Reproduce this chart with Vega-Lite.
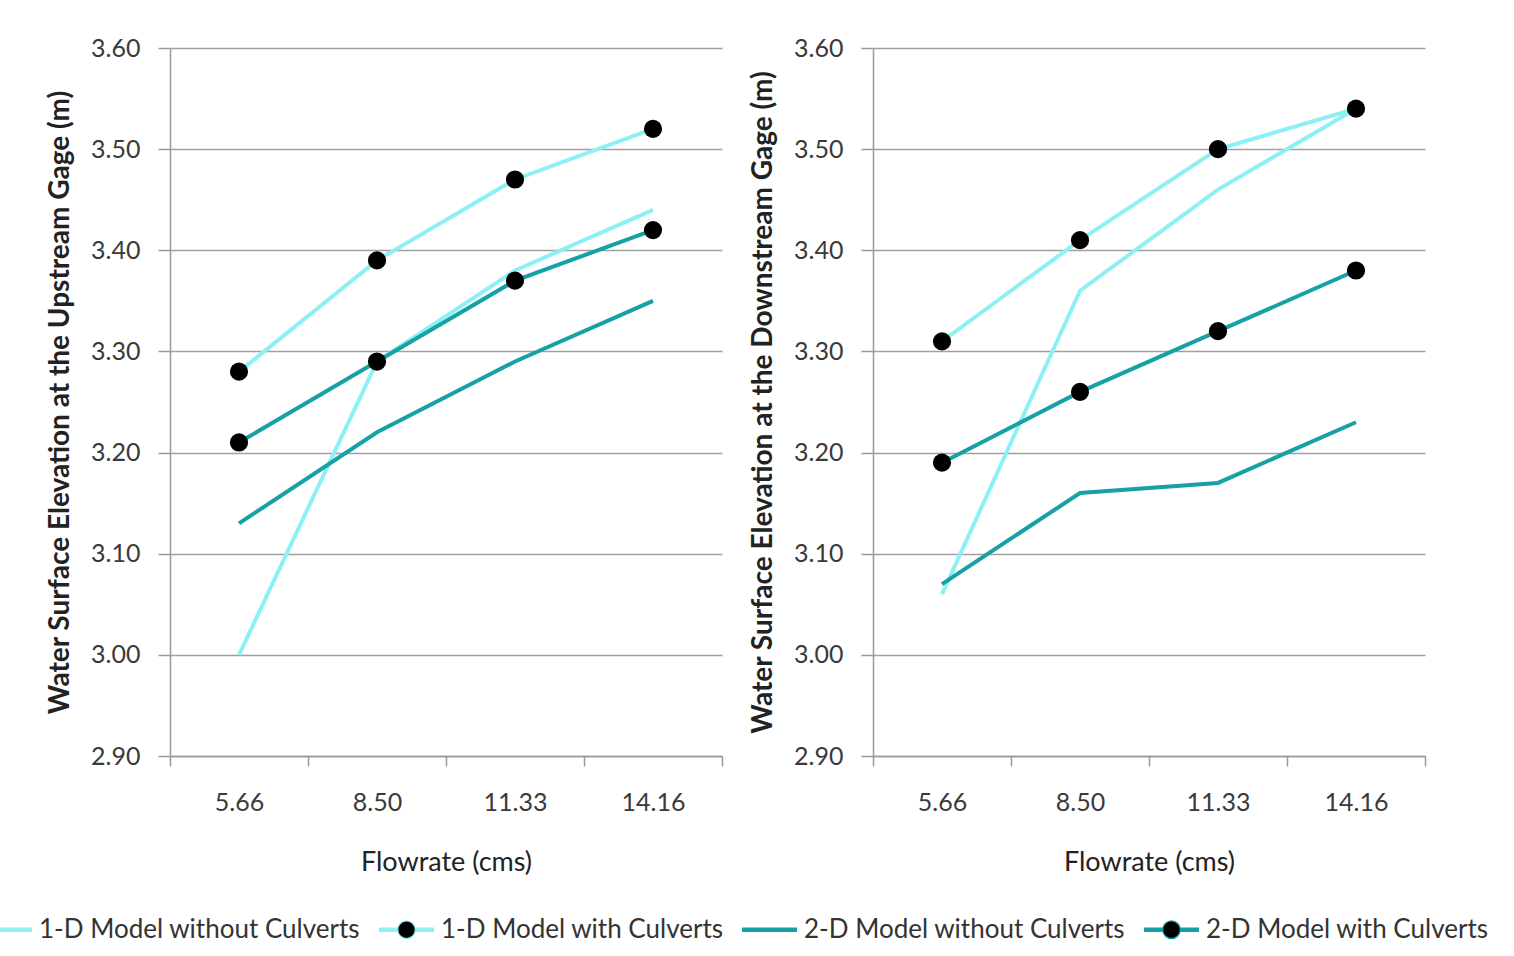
{
  "$schema": "https://vega.github.io/schema/vega-lite/v6.json",
  "background": "white",
  "padding": {"left": -24, "top": 36, "right": 0, "bottom": 0},
  "spacing": 26,
  "datasets": {
    "up": [
      {"flow": "5.66", "series": "1-D Model without Culverts", "wse": 3.00},
      {"flow": "8.50", "series": "1-D Model without Culverts", "wse": 3.29},
      {"flow": "11.33", "series": "1-D Model without Culverts", "wse": 3.38},
      {"flow": "14.16", "series": "1-D Model without Culverts", "wse": 3.44},
      {"flow": "5.66", "series": "1-D Model with Culverts", "wse": 3.28},
      {"flow": "8.50", "series": "1-D Model with Culverts", "wse": 3.39},
      {"flow": "11.33", "series": "1-D Model with Culverts", "wse": 3.47},
      {"flow": "14.16", "series": "1-D Model with Culverts", "wse": 3.52},
      {"flow": "5.66", "series": "2-D Model without Culverts", "wse": 3.13},
      {"flow": "8.50", "series": "2-D Model without Culverts", "wse": 3.22},
      {"flow": "11.33", "series": "2-D Model without Culverts", "wse": 3.29},
      {"flow": "14.16", "series": "2-D Model without Culverts", "wse": 3.35},
      {"flow": "5.66", "series": "2-D Model with Culverts", "wse": 3.21},
      {"flow": "8.50", "series": "2-D Model with Culverts", "wse": 3.29},
      {"flow": "11.33", "series": "2-D Model with Culverts", "wse": 3.37},
      {"flow": "14.16", "series": "2-D Model with Culverts", "wse": 3.42}
    ],
    "down": [
      {"flow": "5.66", "series": "1-D Model without Culverts", "wse": 3.06},
      {"flow": "8.50", "series": "1-D Model without Culverts", "wse": 3.36},
      {"flow": "11.33", "series": "1-D Model without Culverts", "wse": 3.46},
      {"flow": "14.16", "series": "1-D Model without Culverts", "wse": 3.54},
      {"flow": "5.66", "series": "1-D Model with Culverts", "wse": 3.31},
      {"flow": "8.50", "series": "1-D Model with Culverts", "wse": 3.41},
      {"flow": "11.33", "series": "1-D Model with Culverts", "wse": 3.50},
      {"flow": "14.16", "series": "1-D Model with Culverts", "wse": 3.54},
      {"flow": "5.66", "series": "2-D Model without Culverts", "wse": 3.07},
      {"flow": "8.50", "series": "2-D Model without Culverts", "wse": 3.16},
      {"flow": "11.33", "series": "2-D Model without Culverts", "wse": 3.17},
      {"flow": "14.16", "series": "2-D Model without Culverts", "wse": 3.23},
      {"flow": "5.66", "series": "2-D Model with Culverts", "wse": 3.19},
      {"flow": "8.50", "series": "2-D Model with Culverts", "wse": 3.26},
      {"flow": "11.33", "series": "2-D Model with Culverts", "wse": 3.32},
      {"flow": "14.16", "series": "2-D Model with Culverts", "wse": 3.38}
    ]
  },
  "config": {
    "font": "Lato",
    "view": {"stroke": null},
    "axis": {
      "labelFont": "Lato",
      "labelFontSize": 25,
      "labelColor": "#3a3a3a",
      "titleFont": "Lato",
      "titleColor": "#222",
      "domainColor": "#999",
      "domainWidth": 1.5,
      "tickColor": "#999",
      "tickWidth": 1.5,
      "gridColor": "#a0a0a0",
      "gridWidth": 1.5
    },
    "axisX": {"grid": false, "tickSize": 10, "labelPadding": 24, "titlePadding": 34, "labelAngle": 0, "titleFontWeight": "normal", "titleFontSize": 27},
    "axisY": {"grid": true, "tickSize": 12, "labelPadding": 18, "titlePadding": 16, "titleFontWeight": "bold", "titleFontSize": 28},
    "legend": {
      "orient": "none",
      "legendX": -194,
      "legendY": 853,
      "direction": "horizontal",
      "columns": 4,
      "columnPadding": 15,
      "symbolSize": 3025,
      "symbolStrokeWidth": 1.2,
      "labelFont": "Lato",
      "labelFontSize": 26,
      "labelColor": "#333",
      "labelOffset": 6,
      "labelLimit": 600,
      "padding": 0
    }
  },
  "hconcat": [
    {
      "width": 552,
      "height": 708,
      "data": {"name": "up"},
      "encoding": {
        "x": {"field": "flow", "type": "ordinal", "sort": ["5.66", "8.50", "11.33", "14.16"],
              "scale": {"type": "band", "paddingInner": 0, "paddingOuter": 0},
              "axis": {"title": "Flowrate (cms)", "tickBand": "extent"}},
        "y": {"field": "wse", "type": "quantitative",
              "scale": {"domain": [2.9, 3.6], "nice": false, "zero": false},
              "axis": {"title": "Water Surface Elevation at the Upstream Gage (m)", "values": [2.9, 3.0, 3.1, 3.2, 3.3, 3.4, 3.5, 3.6], "format": ".2f"}}
      },
      "layer": [
        {
          "mark": {"type": "line", "strokeWidth": 4},
          "encoding": {
            "color": {"field": "series", "type": "nominal",
              "scale": {"domain": ["1-D Model without Culverts", "1-D Model with Culverts", "2-D Model without Culverts", "2-D Model with Culverts"],
                        "range": ["#8cf0f5", "#8cf0f5", "#17a0a5", "#17a0a5"]},
              "legend": {"title": null,
                "encode": {"symbols": {"update": {
                  "shape": {"signal": "indexof(datum.value, 'with C') >= 0 ? 'M-1,-0.058L-0.3,-0.058M0.3,-0.058L1,-0.058M-1,-0.029L-0.3,-0.029M0.3,-0.029L1,-0.029M-1,0L-0.3,0M0.3,0L1,0M-1,0.029L-0.3,0.029M0.3,0.029L1,0.029M-1,0.058L-0.3,0.058M0.3,0.058L1,0.058M-0.32,0A0.32,0.32,0,1,1,0.32,0A0.32,0.32,0,1,1,-0.32,0Z' : 'M-1,-0.058L1,-0.058M-1,-0.029L1,-0.029M-1,0L1,0M-1,0.029L1,0.029M-1,0.058L1,0.058'"},
                  "fill": {"signal": "indexof(datum.value, 'with C') >= 0 ? 'black' : 'transparent'"},
                  "strokeWidth": {"value": 1.2}
                }}}}}
          }
        },
        {
          "transform": [{"filter": "indexof(datum.series, 'with C') >= 0"}],
          "mark": {"type": "point", "filled": true, "size": 330, "color": "black", "opacity": 1}
        }
      ]
    },
    {
      "width": 552,
      "height": 708,
      "data": {"name": "down"},
      "encoding": {
        "x": {"field": "flow", "type": "ordinal", "sort": ["5.66", "8.50", "11.33", "14.16"],
              "scale": {"type": "band", "paddingInner": 0, "paddingOuter": 0},
              "axis": {"title": "Flowrate (cms)", "tickBand": "extent"}},
        "y": {"field": "wse", "type": "quantitative",
              "scale": {"domain": [2.9, 3.6], "nice": false, "zero": false},
              "axis": {"title": "Water Surface Elevation at the Downstream Gage (m)", "values": [2.9, 3.0, 3.1, 3.2, 3.3, 3.4, 3.5, 3.6], "format": ".2f"}}
      },
      "layer": [
        {
          "mark": {"type": "line", "strokeWidth": 4},
          "encoding": {
            "color": {"field": "series", "type": "nominal"}
          }
        },
        {
          "transform": [{"filter": "indexof(datum.series, 'with C') >= 0"}],
          "mark": {"type": "point", "filled": true, "size": 330, "color": "black", "opacity": 1}
        }
      ]
    }
  ]
}
